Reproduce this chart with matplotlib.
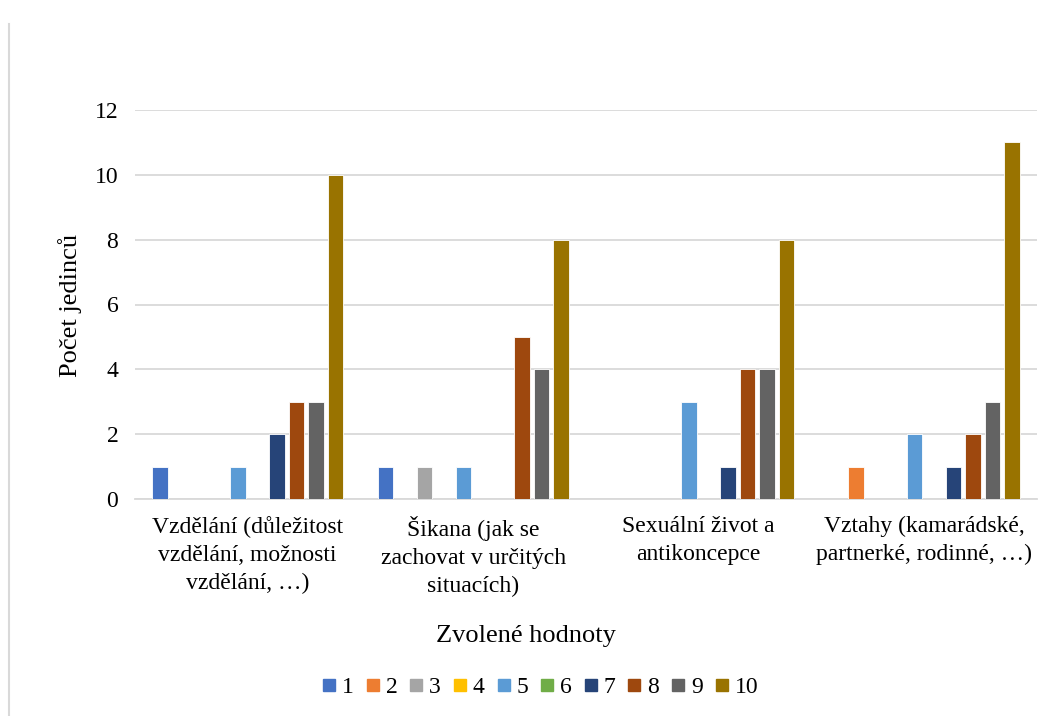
import numpy as np
import matplotlib.pyplot as plt
from matplotlib.lines import Line2D

plt.rcParams['font.family'] = ['Liberation Serif', 'DejaVu Serif']

# Data.
categories = ['Vzdělání (důležitost\nvzdělání, možnosti\nvzdělání, …)',
              'Šikana (jak se\nzachovat v určitých\nsituacích)',
              'Sexuální život a\nantikoncepce',
              'Vztahy (kamarádské,\npartnerké, rodinné, …)']
series_names = ['1', '2', '3', '4', '5', '6', '7', '8', '9', '10']
values = [
    [1, 1, 0, 0],    # 1
    [0, 0, 0, 1],    # 2
    [0, 1, 0, 0],    # 3
    [0, 0, 0, 0],    # 4
    [1, 1, 3, 2],    # 5
    [0, 0, 0, 0],    # 6
    [2, 0, 1, 1],    # 7
    [3, 5, 4, 2],    # 8
    [3, 4, 4, 3],    # 9
    [10, 8, 8, 11],  # 10
]
colors = ['#4472C4', '#ED7D31', '#A5A5A5', '#FFC000', '#5B9BD5',
          '#70AD47', '#264478', '#9E480E', '#636363', '#997300']

W, H = 1052, 716
fs = 17
fig = plt.figure(figsize=(W / 100, H / 100), dpi=100)
ax = fig.add_axes([135 / W, (H - 499) / H, (1037 - 135) / W, (499 - 110) / H])

x = np.arange(len(categories))
n = len(series_names)
step = 0.865 / n
bw = step * 0.78
for i in range(n):
    pos = x - 0.865 / 2 + step * (i + 0.5)
    ax.bar(pos, values[i], width=bw, color=colors[i], edgecolor='white',
           linewidth=0.6, zorder=3)

ax.set_xlim(-0.5, len(categories) - 0.5)
ax.set_ylim(0, 12)
ax.set_yticks(range(0, 13, 2))
ax.yaxis.grid(True, color='#D9D9D9', linewidth=1.3, zorder=0)
ax.set_axisbelow(True)
for s in ['top', 'right', 'left']:
    ax.spines[s].set_visible(False)
ax.spines['bottom'].set_color('#D9D9D9')
ax.spines['bottom'].set_linewidth(1.3)
ax.tick_params(axis='both', length=0, labelsize=fs)
ax.tick_params(axis='y', pad=12)
ax.tick_params(axis='x', pad=12)
ax.set_xticks(x)
ax.set_xticklabels(categories, linespacing=1.45)

# Axis titles
fig.text(70 / W, (H - 305) / H, 'Počet jedinců', fontsize=19, rotation=90,
         ha='center', va='center')
fig.text(526 / W, (H - 636) / H, 'Zvolené hodnoty', fontsize=19, ha='center', va='center')

# Legend
handles = [Line2D([], [], marker='s', linestyle='', markersize=9,
                  markerfacecolor=c, markeredgecolor=c) for c in colors]
fig.legend(handles, series_names, loc='center', bbox_to_anchor=(540 / W, (H - 687) / H),
           ncol=n, frameon=False, fontsize=fs, handletextpad=0.25, columnspacing=0.5,
           handlelength=0.6)

# Thin frame line on the left edge
fig.add_artist(Line2D([9 / W, 9 / W], [0, (H - 24) / H], color='#D9D9D9', linewidth=1.5))

fig.savefig('out.png', dpi=100)
